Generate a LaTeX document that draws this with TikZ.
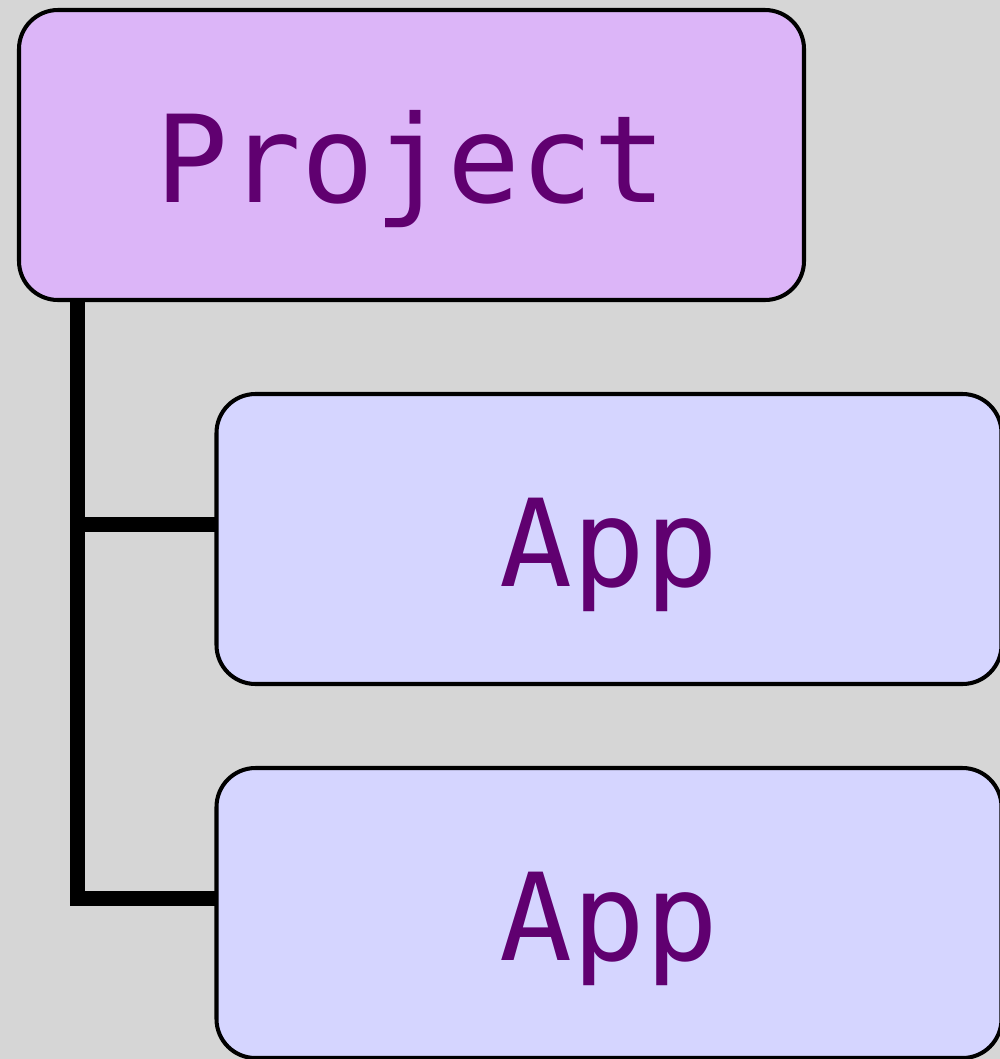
\documentclass[tikz,border=0pt]{standalone}
\usepackage{fontspec}
\newfontfamily\boxfont{DejaVu Sans Mono}
\usetikzlibrary{positioning}
\definecolor{bggray}{HTML}{D6D6D6}
\definecolor{projfill}{HTML}{DCB5F8}
\definecolor{appfill}{HTML}{D5D5FF}
\definecolor{labelpurple}{HTML}{600070}
\tikzset{
    treebox/.style   = {draw=black, line width=2.3pt, rounded corners=0.78cm, outer sep=0pt,
                        minimum width=15.7cm, minimum height=5.8cm, text=labelpurple,
                        text height=2.45cm, text depth=0.56cm,
                        font=\boxfont\fontsize{69}{69}\selectfont},
    projbox/.style   = {treebox, fill=projfill},
    appbox/.style    = {treebox, fill=appfill},
    treeline/.style  = {black, -, line width=0.3cm},
}
\begin{document}
\begin{tikzpicture}
    \fill[bggray] (0,0) rectangle (20,-21.18);
    \useasboundingbox (0,0) rectangle (20,-21.18);
    \node[projbox](proj) at (8.23,-3.1){Project};
    \node[appbox, below=1.88cm of proj, xshift=3.95cm](app1){App};
    \node[appbox, below=1.68cm of app1](app2){App};

    \coordinate (top) at ([xshift=1.16cm]proj.south west);
    \coordinate (join1) at ([yshift=0.3cm]app1.west);
    \coordinate (join2) at ([yshift=0.3cm]app2.west);
    \draw[treeline] (top) |- (join2);
    \draw[treeline] (top |- join1) -- (join1);
\end{tikzpicture}
\end{document}
